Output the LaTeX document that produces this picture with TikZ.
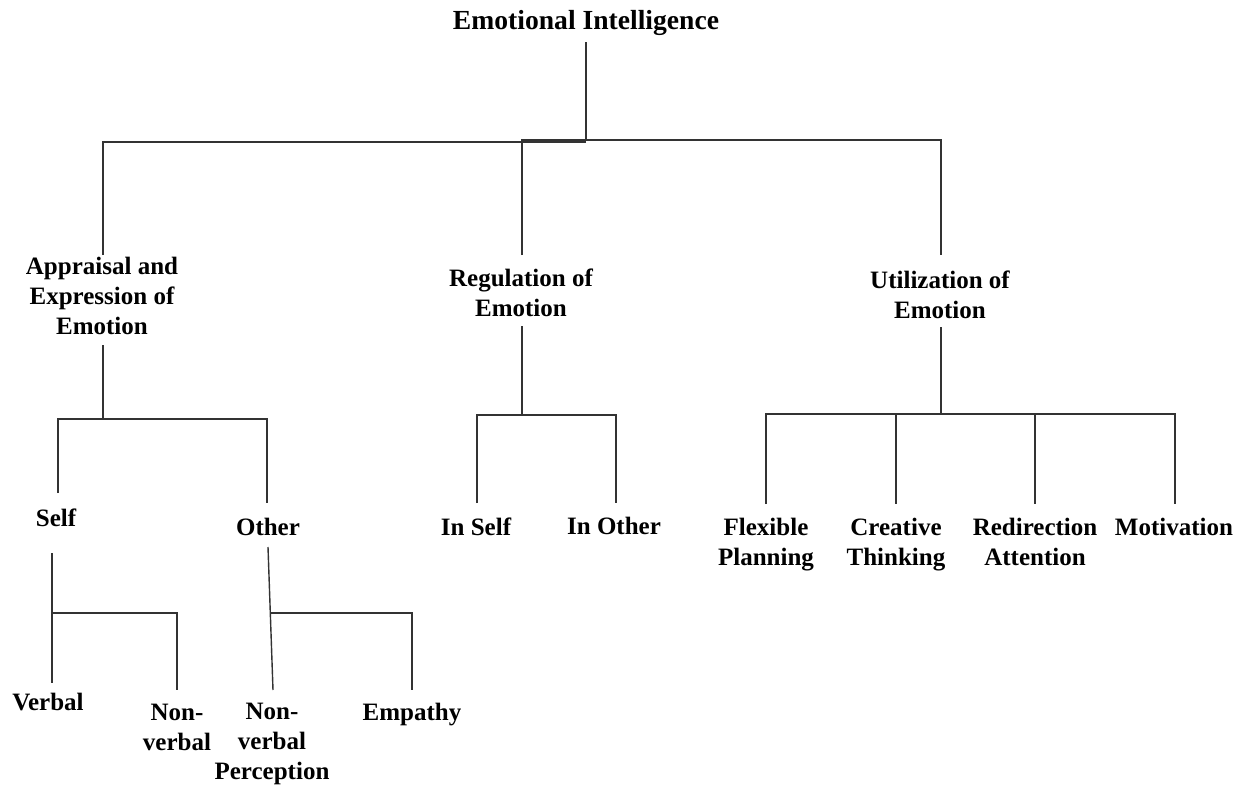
\documentclass[tikz,border=0pt]{standalone}
\usepackage{fontspec}
\setmainfont{Liberation Serif}
\begin{document}
\begin{tikzpicture}[x=0.5pt,y=-0.5pt,
  lbl/.style={inner sep=0pt,anchor=north,align=center,font=\fontsize{12.5}{15}\selectfont\bfseries},
  rootlbl/.style={inner sep=0pt,anchor=north,align=center,font=\fontsize{13.8}{16}\selectfont\bfseries},
  conn/.style={draw=black!80,line width=0.7pt}]
\useasboundingbox (0,0) rectangle (1254,787);
% labels
\node[rootlbl] (root) at (586,10) {Emotional Intelligence};
\node[lbl] (appr) at (102,257) {Appraisal and\\Expression of\\Emotion};
\node[lbl] (regu) at (521,268) {Regulation of\\Emotion};
\node[lbl] (util) at (940,270) {Utilization of\\Emotion};
\node[lbl] (self) at (56,508) {Self};
\node[lbl] (other) at (268,518) {Other};
\node[lbl] (inself) at (476,517) {In Self};
\node[lbl] (inother) at (614,517) {In Other};
\node[lbl] (flex) at (766,518) {Flexible\\Planning};
\node[lbl] (crea) at (896,518) {Creative\\Thinking};
\node[lbl] (redi) at (1035,518) {Redirection\\Attention};
\node[lbl] (moti) at (1174,518) {Motivation};
\node[lbl] (verbal) at (48,693) {Verbal};
\node[lbl] (nonverbal) at (177,704) {Non-\\verbal};
\node[lbl] (nvperc) at (272,703) {Non-\\verbal\\Perception};
\node[lbl] (empa) at (412,703) {Empathy};
% connector end points
\coordinate (r0) at (586,42);
\coordinate (r1) at (586,141);
\coordinate (a0) at (103,255);
\coordinate (a1) at (103,142);
\coordinate (g0) at (522,255);
\coordinate (g1) at (522,140);
\coordinate (u1) at (941,140);
\coordinate (u0) at (941,255);
% appraisal subtree
\coordinate (ap0) at (103,345);
\coordinate (ap1) at (103,419);
\coordinate (s0) at (58,493);
\coordinate (s1) at (58,419);
\coordinate (o1) at (267,419);
\coordinate (o0) at (267,503);
% self subtree
\coordinate (se0) at (52,553);
\coordinate (se1) at (52,683);
\coordinate (sej) at (52,613);
\coordinate (nv1) at (177,613);
\coordinate (nv0) at (177,690);
% other subtree
\coordinate (ot0) at (268,547);
\coordinate (ot1) at (273,690);
\coordinate (otj) at (271,613);
\coordinate (em1) at (412,613);
\coordinate (em0) at (412,690);
% regulation subtree
\coordinate (rg0) at (522,326);
\coordinate (rg1) at (522,415);
\coordinate (is1) at (477,415);
\coordinate (is0) at (477,503);
\coordinate (io1) at (616,415);
\coordinate (io0) at (616,503);
% utilization subtree
\coordinate (ut0) at (941,327);
\coordinate (ut1) at (941,414);
\coordinate (fl1) at (766,414);
\coordinate (fl0) at (766,504);
\coordinate (cr1) at (896,414);
\coordinate (cr0) at (896,504);
\coordinate (rd1) at (1035,414);
\coordinate (rd0) at (1035,504);
\coordinate (mo1) at (1175,414);
\coordinate (mo0) at (1175,504);
% connectors
\draw[conn] (r0) -- (r1);
\draw[conn] (a0) -- (a1) -- (r1 |- a1);
\draw[conn] (g0) -- (g1) -- (u1) -- (u0);
\draw[conn] (ap0) -- (ap1);
\draw[conn] (s0) -- (s1) -- (o1) -- (o0);
\draw[conn] (se0) -- (se1);
\draw[conn] (sej) -- (nv1) -- (nv0);
\draw[conn] (ot0) -- (ot1);
\draw[conn] (otj) -- (em1) -- (em0);
\draw[conn] (rg0) -- (rg1);
\draw[conn] (is0) -- (is1) -- (io1) -- (io0);
\draw[conn] (ut0) -- (ut1);
\draw[conn] (fl0) -- (fl1) -- (mo1) -- (mo0);
\draw[conn] (cr1) -- (cr0);
\draw[conn] (rd1) -- (rd0);
\end{tikzpicture}
\end{document}
